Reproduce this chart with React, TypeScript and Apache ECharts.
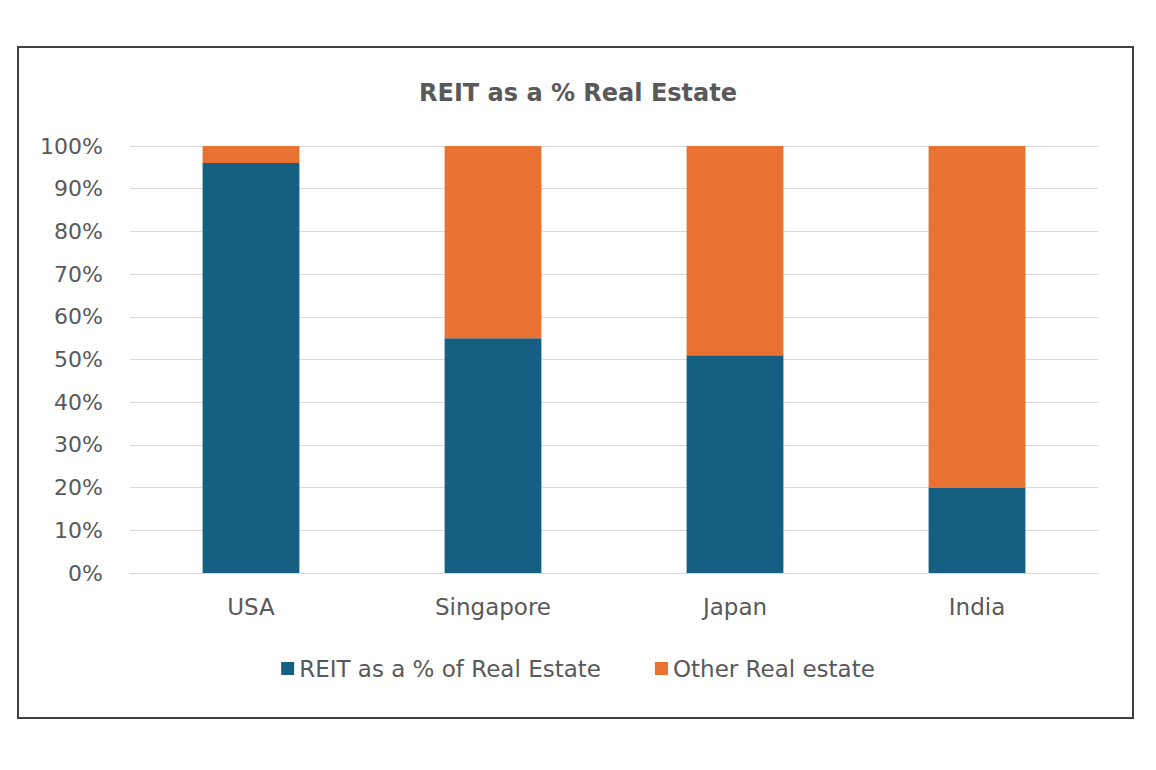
import React, { useEffect, useRef } from "react";
import * as echarts from "echarts";

const categories = ["USA", "Singapore", "Japan", "India"];
const reitShare = [96, 55, 51, 20];
const otherShare = [4, 45, 49, 80];
const yTicks = [0, 10, 20, 30, 40, 50, 60, 70, 80, 90, 100];

const FONT = "'DejaVu Sans', 'Noto Sans', sans-serif";
const TEXT = "#595959";

export default function App() {
  const ref = useRef<HTMLDivElement>(null);

  useEffect(() => {
    if (!ref.current) return;
    const chart = echarts.init(ref.current, undefined, { renderer: "svg" });
    chart.setOption({
      animation: false,
      backgroundColor: "#ffffff",
      textStyle: { fontFamily: FONT },
      title: {
        text: "REIT as a % Real Estate",
        left: "center",
        top: 76,
        textStyle: { color: TEXT, fontSize: 24, fontWeight: "bold", fontFamily: FONT },
      },
      graphic: [
        {
          type: "rect",
          shape: { x: 18, y: 47, width: 1115, height: 671 },
          style: { fill: "none", stroke: "#404040", lineWidth: 2 },
          silent: true,
        },
      ],
      legend: {
        bottom: 85,
        left: "center",
        itemWidth: 13,
        itemHeight: 13,
        itemGap: 54,
        icon: "rect",
        textStyle: { color: TEXT, fontSize: 23, fontFamily: FONT },
        data: ["REIT as a % of Real Estate", "Other Real estate"],
      },
      grid: { left: 130, right: 58, top: 146, bottom: 197 },
      xAxis: {
        type: "category",
        data: categories,
        axisTick: { show: false },
        axisLine: { lineStyle: { color: "#d9d9d9" } },
        axisLabel: { color: TEXT, fontSize: 23, margin: 22, fontFamily: FONT },
      },
      yAxis: {
        type: "value",
        min: yTicks[0],
        max: yTicks[yTicks.length - 1],
        interval: 10,
        axisLine: { show: false },
        axisTick: { show: false },
        splitLine: { lineStyle: { color: "#d9d9d9" } },
        axisLabel: {
          color: TEXT,
          fontSize: 22,
          margin: 27,
          fontFamily: FONT,
          formatter: (v: number) => `${v}%`,
        },
      },
      series: [
        {
          name: "REIT as a % of Real Estate",
          type: "bar",
          stack: "total",
          barWidth: "40%",
          data: reitShare,
          itemStyle: { color: "#156082" },
        },
        {
          name: "Other Real estate",
          type: "bar",
          stack: "total",
          barWidth: "40%",
          data: otherShare,
          itemStyle: { color: "#E97132" },
        },
      ],
    });
    return () => chart.dispose();
  }, []);

  return (
    <div
      ref={ref}
      style={{ position: "fixed", left: 0, top: 0, width: 1156, height: 770 }}
    />
  );
}
